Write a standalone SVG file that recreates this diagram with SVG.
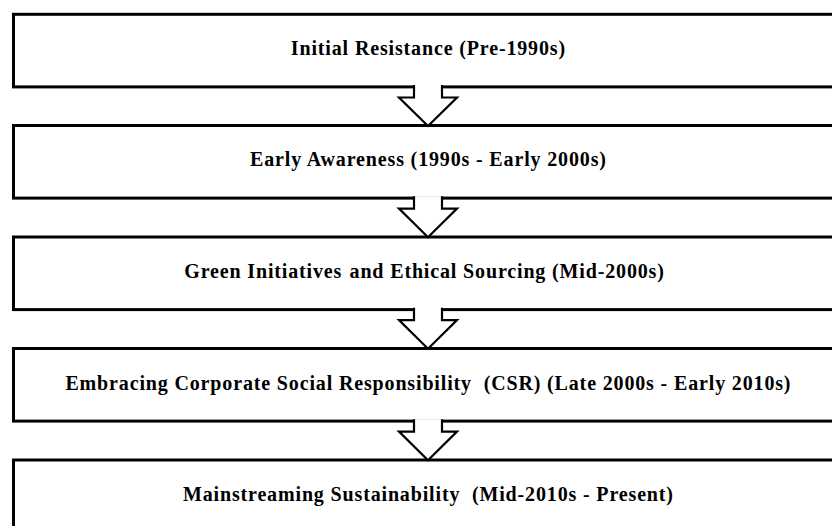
<svg xmlns="http://www.w3.org/2000/svg" width="832" height="526" viewBox="0 0 832 526">
  <style>
    .box { fill: #ffffff; stroke: #000000; stroke-width: 3; stroke-linejoin: miter; }
    .label { font-family: "Liberation Serif", "Times New Roman", serif; font-weight: bold; font-size: 20px; letter-spacing: 0.85px; fill: #000000; text-anchor: middle; }
    .arrow { fill: #ffffff; stroke: #000000; stroke-width: 2.2; stroke-linejoin: miter; }
  </style>
  <rect width="832" height="526" fill="#ffffff"/>

  <g id="stage-1">
    <rect class="box" x="13.5" y="14.3" width="829" height="72.6"/>
    <text class="label" x="428.4" y="55">Initial Resistance (Pre-1990s)</text>
  </g>
  <g id="stage-2">
    <rect class="box" x="13.5" y="125.5" width="829" height="72.6"/>
    <text class="label" x="428.4" y="166">Early Awareness (1990s - Early 2000s)</text>
  </g>
  <g id="stage-3">
    <rect class="box" x="13.5" y="237" width="829" height="72.6"/>
    <text class="label" x="424.5" y="278">Green Initiatives <tspan dx="1.5">and Ethical Sourcing (Mid-2000s)</tspan></text>
  </g>
  <g id="stage-4">
    <rect class="box" x="13.5" y="348.5" width="829" height="72.6"/>
    <text class="label" x="428.4" y="390" xml:space="preserve">Embracing Corporate Social Responsibility  (CSR) (Late 2000s - Early 2010s)</text>
  </g>
  <g id="stage-5">
    <rect class="box" x="13.5" y="460" width="829" height="90"/>
    <text class="label" x="428.4" y="501" xml:space="preserve">Mainstreaming Sustainability  (Mid-2010s - Present)</text>
  </g>

  <!-- block arrows leading from each stage to the next -->
  <g id="connectors">
    <path class="arrow" d="M414,85 V97.5 H399 L428,126 L457,97.5 H442 V85"/>
    <path class="arrow" d="M414,196.2 V208.6 H399 L428,237.2 L457,208.6 H442 V196.2"/>
    <path class="arrow" d="M414,307.7 V320.1 H399 L428,348.7 L457,320.1 H442 V307.7"/>
    <path class="arrow" d="M414,419.2 V431.6 H399 L428,460.2 L457,431.6 H442 V419.2"/>
  </g>
</svg>
